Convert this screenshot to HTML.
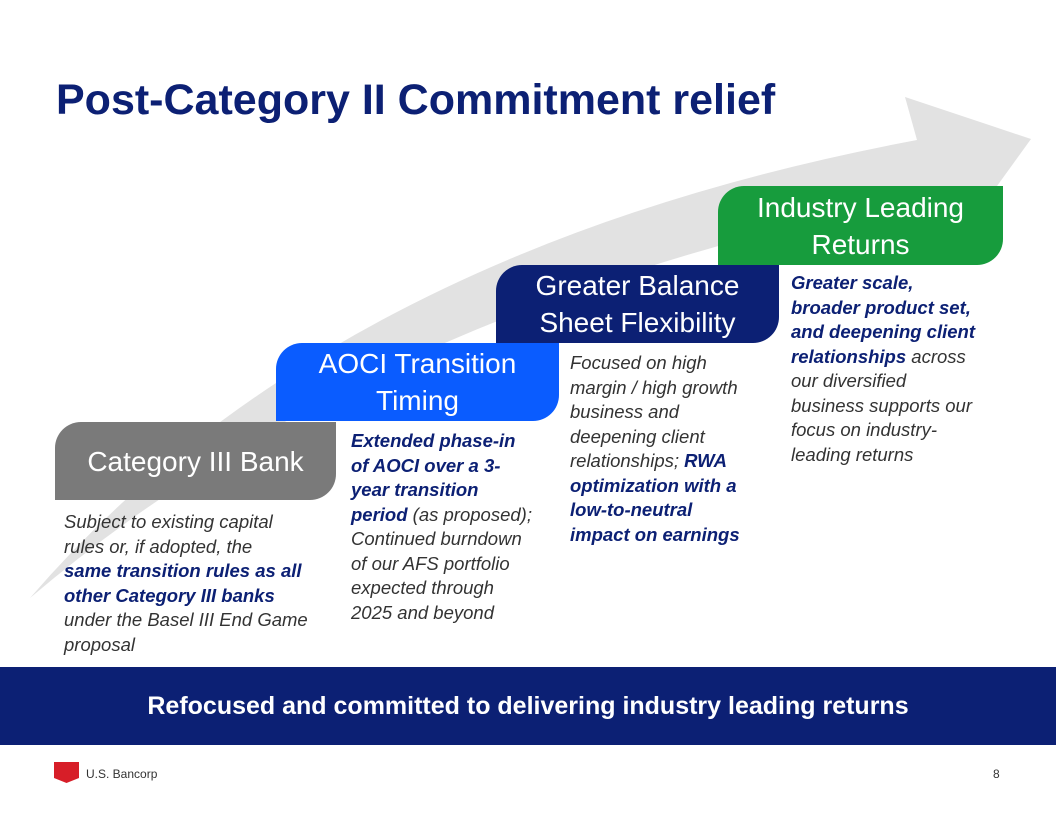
<!DOCTYPE html>
<html><head><style>
body{margin:0;width:1056px;height:816px;position:relative;background:#fff;font-family:"Liberation Sans",sans-serif;overflow:hidden}
.a{position:absolute}
h1{position:absolute;left:56px;top:76px;margin:0;font-size:43px;font-weight:bold;color:#0c2074;letter-spacing:0;white-space:nowrap}
.box{position:absolute;color:#fff;font-size:28px;line-height:37px;text-align:center;display:flex;align-items:center;justify-content:center;border-radius:26px 0 26px 0}
.t{position:absolute;font-size:18.5px;line-height:24.5px;font-style:italic;color:#333;white-space:nowrap}
.t b{color:#0c2074}
</style></head><body>
<svg class="a" style="left:0;top:0" width="1056" height="816">
<path d="M30 598 Q 330 250 917 140 L 905 97 L 1031 139 L 958 240 L 948 192 Q 380 300 30 598 Z" fill="#e2e2e2"/>
</svg>
<h1>Post-Category II Commitment relief</h1>
<div class="box" style="left:718px;top:186px;width:285px;height:79px;background:#179c3d">Industry Leading<br>Returns</div>
<div class="box" style="left:496px;top:265px;width:283px;height:78px;background:#0c2074">Greater Balance<br>Sheet Flexibility</div>
<div class="box" style="left:276px;top:343px;width:283px;height:78px;background:#0a5cff">AOCI Transition<br>Timing</div>
<div class="box" style="left:55px;top:422px;width:281px;height:78px;background:#7a7a7a">Category III Bank</div>
<div class="t" style="left:64px;top:510px">Subject to existing capital<br>rules or, if adopted, the<br><b>same transition rules as all<br>other Category III banks</b><br>under the Basel III End Game<br>proposal</div>
<div class="t" style="left:351px;top:429px"><b>Extended phase-in<br>of AOCI over a 3-<br>year transition<br>period</b> (as proposed);<br>Continued burndown<br>of our AFS portfolio<br>expected through<br>2025 and beyond</div>
<div class="t" style="left:570px;top:351px">Focused on high<br>margin / high growth<br>business and<br>deepening client<br>relationships; <b>RWA<br>optimization with a<br>low-to-neutral<br>impact on earnings</b></div>
<div class="t" style="left:791px;top:271px"><b>Greater scale,<br>broader product set,<br>and deepening client<br>relationships</b> across<br>our diversified<br>business supports our<br>focus on industry-<br>leading returns</div>
<div class="a" style="left:0;top:667px;width:1056px;height:78px;background:#0c2074;color:#fff;font-size:25px;font-weight:bold;text-align:center;line-height:78px">Refocused and committed to delivering industry leading returns</div>
<svg class="a" style="left:54px;top:762px" width="26" height="23"><path d="M0 0H25V16L12.5 21L0 16Z" fill="#d71e28"/></svg>
<div class="a" style="left:86px;top:767px;font-size:12px;color:#333">U.S. Bancorp</div>
<div class="a" style="left:993px;top:767px;font-size:12px;color:#333">8</div>
</body></html>
